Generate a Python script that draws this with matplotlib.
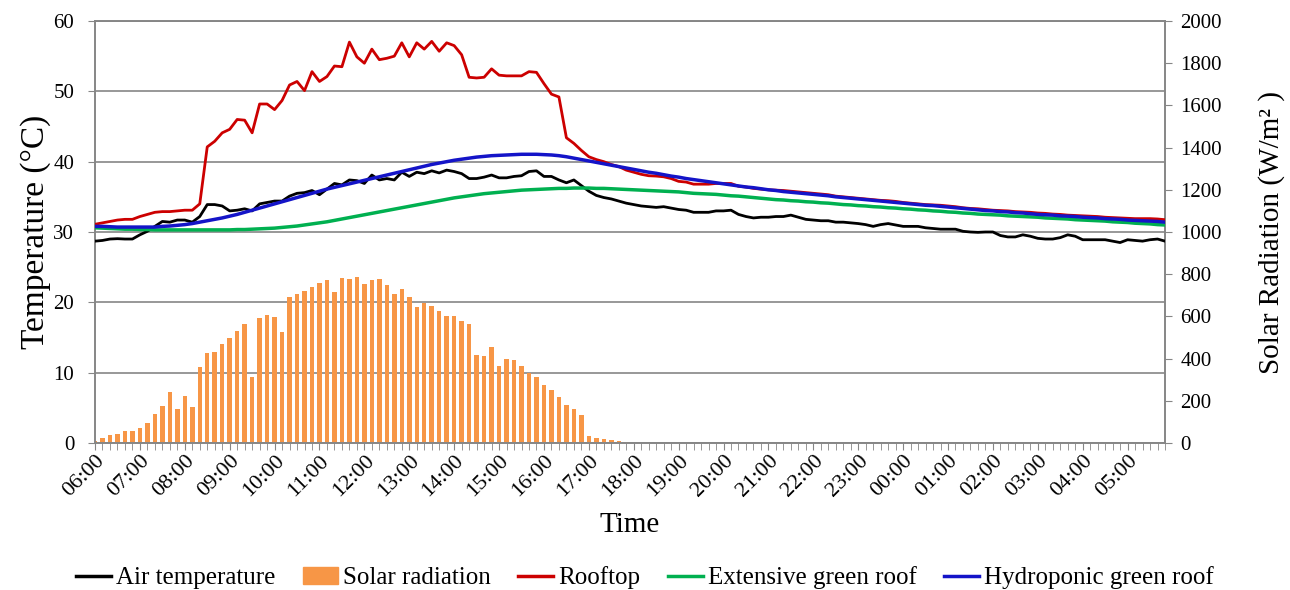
import numpy as np
import matplotlib
matplotlib.use("Agg")
import matplotlib.pyplot as plt
from matplotlib.lines import Line2D
from matplotlib.patches import Patch
from matplotlib.transforms import ScaledTranslation

plt.rcParams['font.family'] = ['Liberation Serif', 'DejaVu Serif']

# 10-minute readings from 06:00 to 05:50 (144 samples)
hour_labels = ["06:00", "07:00", "08:00", "09:00", "10:00", "11:00", "12:00", "13:00",
               "14:00", "15:00", "16:00", "17:00", "18:00", "19:00", "20:00", "21:00",
               "22:00", "23:00", "00:00", "01:00", "02:00", "03:00", "04:00", "05:00"]

air_temp = [
    28.7, 28.8, 29.0, 29.05, 29.0, 29.0, 29.6, 30.1, 30.8, 31.5, 31.4, 31.7,
    31.7, 31.4, 32.2, 33.9, 33.9, 33.7, 33.0, 33.1, 33.3, 33.0, 34.0, 34.2,
    34.4, 34.4, 35.1, 35.5, 35.6, 35.9, 35.3, 36.1, 36.9, 36.7, 37.4, 37.3,
    36.9, 38.1, 37.4, 37.6, 37.4, 38.5, 37.9, 38.5, 38.3, 38.7, 38.4, 38.8,
    38.6, 38.3, 37.6, 37.6, 37.8, 38.1, 37.7, 37.7, 37.9, 38.0, 38.6, 38.7,
    37.9, 37.9, 37.4, 37.0, 37.4, 36.6, 35.8, 35.2, 34.9, 34.7, 34.4, 34.1,
    33.9, 33.7, 33.6, 33.5, 33.6, 33.4, 33.2, 33.1, 32.8, 32.8, 32.8, 33.0,
    33.0, 33.1, 32.5, 32.2, 32.0, 32.1, 32.1, 32.2, 32.2, 32.4, 32.1, 31.8,
    31.7, 31.6, 31.6, 31.4, 31.4, 31.3, 31.2, 31.05, 30.8, 31.05, 31.2, 31.0,
    30.8, 30.8, 30.8, 30.6, 30.5, 30.4, 30.4, 30.4, 30.1, 30.0, 29.95, 30.0,
    30.0, 29.5, 29.3, 29.3, 29.6, 29.4, 29.1, 29.0, 29.0, 29.2, 29.6, 29.4,
    28.9, 28.9, 28.9, 28.9, 28.7, 28.5, 28.9, 28.8, 28.7, 28.9, 29.0, 28.7,
]

rooftop = [
    31.1, 31.3, 31.5, 31.7, 31.8, 31.8, 32.2, 32.5, 32.8, 32.9, 32.9, 33.0,
    33.1, 33.1, 34.0, 42.1, 42.9, 44.1, 44.6, 46.0, 45.9, 44.1, 48.2, 48.2,
    47.4, 48.7, 50.9, 51.4, 50.1, 52.8, 51.4, 52.1, 53.6, 53.5, 57.0, 54.9,
    54.0, 56.0, 54.5, 54.7, 55.0, 56.9, 54.9, 56.9, 56.0, 57.1, 55.7, 56.9,
    56.5, 55.2, 52.0, 51.9, 52.0, 53.2, 52.3, 52.2, 52.2, 52.2, 52.8, 52.7,
    51.1, 49.6, 49.2, 43.4, 42.6, 41.6, 40.7, 40.3, 40.0, 39.6, 39.3, 38.8,
    38.5, 38.2, 38.0, 37.95, 37.85, 37.6, 37.2, 37.1, 36.8, 36.8, 36.8, 36.9,
    36.9, 36.9, 36.5, 36.4, 36.2, 36.1, 36.0, 35.95, 35.9, 35.8, 35.7, 35.6,
    35.5, 35.4, 35.3, 35.1, 35.0, 34.9, 34.8, 34.7, 34.6, 34.5, 34.45, 34.35,
    34.2, 34.1, 34.0, 33.9, 33.85, 33.8, 33.7, 33.6, 33.45, 33.35, 33.3, 33.2,
    33.1, 33.05, 33.0, 32.9, 32.85, 32.8, 32.7, 32.65, 32.55, 32.5, 32.4, 32.35,
    32.3, 32.25, 32.2, 32.1, 32.05, 32.0, 31.95, 31.9, 31.9, 31.9, 31.85, 31.75,
]

extensive = [
    30.6, 30.55, 30.5, 30.45, 30.4, 30.4, 30.35, 30.35, 30.3, 30.3, 30.3, 30.3,
    30.3, 30.3, 30.3, 30.3, 30.3, 30.3, 30.3, 30.35, 30.35, 30.4, 30.45, 30.5,
    30.55, 30.65, 30.75, 30.85, 31.0, 31.15, 31.3, 31.45, 31.65, 31.85, 32.05, 32.25,
    32.45, 32.65, 32.85, 33.05, 33.25, 33.45, 33.65, 33.85, 34.05, 34.25, 34.45, 34.65,
    34.85, 35.0, 35.15, 35.3, 35.45, 35.55, 35.65, 35.75, 35.85, 35.95, 36.0, 36.05,
    36.1, 36.15, 36.2, 36.2, 36.25, 36.25, 36.25, 36.2, 36.2, 36.15, 36.1, 36.05,
    36.0, 35.95, 35.9, 35.85, 35.8, 35.75, 35.7, 35.6, 35.5, 35.45, 35.4, 35.35,
    35.25, 35.15, 35.1, 35.0, 34.9, 34.8, 34.7, 34.6, 34.55, 34.45, 34.4, 34.3,
    34.25, 34.15, 34.1, 34.0, 33.9, 33.85, 33.75, 33.7, 33.6, 33.55, 33.45, 33.4,
    33.3, 33.25, 33.15, 33.1, 33.0, 32.95, 32.85, 32.8, 32.7, 32.65, 32.55, 32.5,
    32.45, 32.4, 32.3, 32.25, 32.2, 32.15, 32.1, 32.0, 31.95, 31.9, 31.85, 31.75,
    31.7, 31.65, 31.6, 31.55, 31.45, 31.4, 31.35, 31.25, 31.2, 31.15, 31.05, 31.0,
]

hydroponic = [
    30.8, 30.8, 30.75, 30.7, 30.7, 30.7, 30.7, 30.7, 30.7, 30.8, 30.85, 30.95,
    31.05, 31.2, 31.4, 31.6, 31.8, 32.0, 32.25, 32.5, 32.8, 33.1, 33.4, 33.7,
    34.0, 34.3, 34.6, 34.9, 35.2, 35.5, 35.8, 36.1, 36.35, 36.6, 36.85, 37.1,
    37.35, 37.6, 37.85, 38.1, 38.35, 38.6, 38.85, 39.1, 39.35, 39.6, 39.8, 40.0,
    40.2, 40.35, 40.5, 40.65, 40.75, 40.85, 40.9, 40.95, 41.0, 41.05, 41.05, 41.05,
    41.0, 40.95, 40.85, 40.7, 40.5, 40.3, 40.1, 39.9, 39.7, 39.5, 39.3, 39.1,
    38.9, 38.7, 38.5, 38.35, 38.15, 37.95, 37.8, 37.6, 37.45, 37.3, 37.15, 37.0,
    36.85, 36.7, 36.55, 36.4, 36.3, 36.15, 36.0, 35.9, 35.75, 35.65, 35.55, 35.45,
    35.35, 35.25, 35.15, 35.0, 34.9, 34.8, 34.7, 34.6, 34.5, 34.4, 34.3, 34.2,
    34.1, 34.0, 33.9, 33.8, 33.75, 33.65, 33.55, 33.45, 33.35, 33.25, 33.15, 33.05,
    33.0, 32.9, 32.85, 32.75, 32.7, 32.6, 32.5, 32.45, 32.4, 32.3, 32.25, 32.2,
    32.1, 32.05, 32.0, 31.9, 31.85, 31.8, 31.7, 31.65, 31.6, 31.55, 31.5, 31.4,
]

solar = [
    10, 24, 37, 43, 59, 59, 70, 97, 136, 176, 241, 162,
    225, 170, 360, 425, 432, 470, 500, 529, 563, 313, 594, 608,
    595, 525, 693, 705, 720, 740, 759, 774, 716, 782, 778, 787,
    754, 773, 778, 747, 706, 732, 690, 646, 663, 651, 624, 603,
    600, 579, 565, 419, 411, 454, 367, 397, 392, 363, 333, 314,
    273, 249, 217, 178, 163, 135, 33, 25, 20, 14, 9, 3,
] + [0] * 72

x = np.arange(len(air_temp))

gray = '#868686'
c_air = '#000000'
c_solar = '#F79646'
c_roof = '#CC0000'
c_ext = '#00B050'
c_hyd = '#1414C8'

fig = plt.figure(figsize=(12.9, 5.9), dpi=100)
ax1 = fig.add_axes([95 / 1290, 1 - 443 / 590, (1165 - 95) / 1290, (443 - 21) / 590])
ax2 = ax1.twinx()
ax1.set_zorder(ax2.get_zorder() + 1)
ax1.patch.set_visible(False)

# solar radiation bars on the right axis
ax2.bar(x, solar, width=0.6, color=c_solar, zorder=2)
ax2.set_ylim(0, 2000)
ax2.set_yticks(np.arange(0, 2001, 200))
# temperature gridlines drawn behind the bars
ax2.set_yticks(np.linspace(0, 2000, 7), minor=True)
ax2.yaxis.remove_overlapping_locs = False
ax2.grid(which='minor', axis='y', color=gray, linewidth=1.2, zorder=0)
ax2.tick_params(axis='y', which='minor', length=0)
ax2.tick_params(axis='y', which='major', direction='out', length=5, color=gray,
                labelsize=15, pad=6)
ax2.set_ylabel("Solar Radiation (W/m² )", fontsize=21, labelpad=26)

lw = 2.0
ax1.plot(x, air_temp, color=c_air, lw=lw, zorder=3)
ax1.plot(x, rooftop, color=c_roof, lw=lw, zorder=3)
ax1.plot(x, extensive, color=c_ext, lw=lw + 0.5, zorder=4)
ax1.plot(x, hydroponic, color=c_hyd, lw=lw + 0.5, zorder=5)

ax1.set_ylim(0, 60)
ax1.set_yticks(np.arange(0, 61, 10))
ax1.set_xlim(0, len(x) - 1)
ax1.set_xticks(x[::6])
ax1.set_xticklabels(hour_labels, rotation=45, ha='right', va='center',
                    rotation_mode='anchor', fontsize=16)
ax1.set_xticks(x, minor=True)
ax1.tick_params(axis='x', which='both', direction='out', length=5, color=gray)
ax1.tick_params(axis='x', which='major', pad=6)
ax1.tick_params(axis='y', direction='out', length=5, color=gray, labelsize=15, pad=10)
shift = ScaledTranslation(5 / 72, 0, fig.dpi_scale_trans)
for lab in ax1.get_xticklabels():
    lab.set_transform(lab.get_transform() + shift)

ax1.set_ylabel("Temperature (°C)", fontsize=24, labelpad=2)
ax1.set_xlabel("Time", fontsize=21, labelpad=8)

for ax in (ax1, ax2):
    for sp in ax.spines.values():
        sp.set_color(gray)
        sp.set_linewidth(1.2)

handles = [
    Line2D([], [], color=c_air, lw=2.5),
    Patch(color=c_solar),
    Line2D([], [], color=c_roof, lw=2.5),
    Line2D([], [], color=c_ext, lw=2.5),
    Line2D([], [], color=c_hyd, lw=2.5),
]
names = ["Air temperature", "Solar radiation", "Rooftop",
         "Extensive green roof", "Hydroponic green roof"]
fig.legend(handles, names, loc='center', bbox_to_anchor=(0.5, 1 - 578 / 590),
           ncol=5, frameon=False, fontsize=18, handlelength=1.4,
           handletextpad=0.2, columnspacing=1.1, borderaxespad=0)

fig.savefig("out.png", dpi=100)
